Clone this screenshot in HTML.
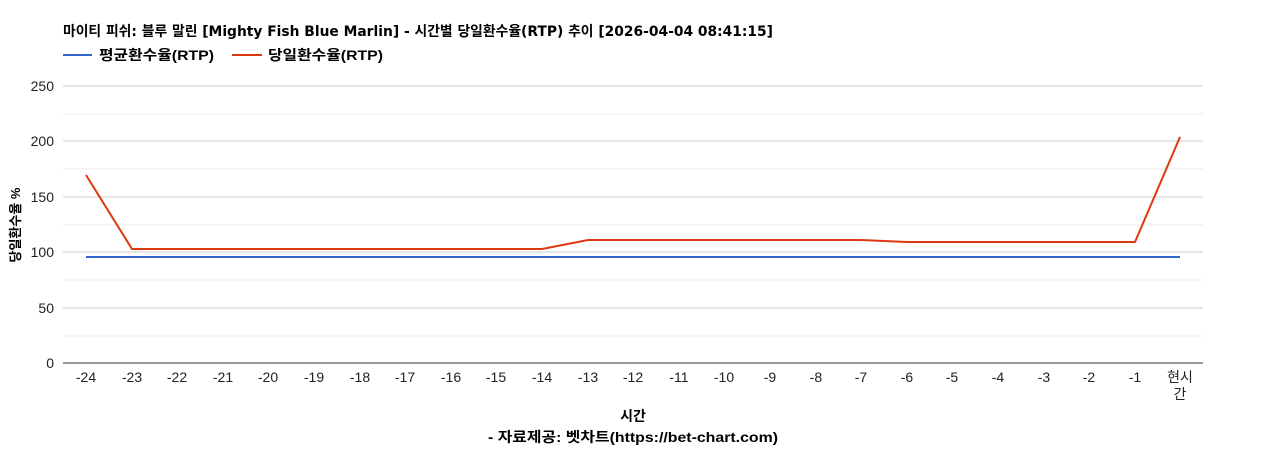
<!DOCTYPE html>
<html><head><meta charset="utf-8"><style>
body{margin:0;background:#fff;width:1268px;height:450px;overflow:hidden}
text{font-family:"Liberation Sans","Noto Sans CJK KR",sans-serif}
</style></head><body>
<svg width="1268" height="450" xmlns="http://www.w3.org/2000/svg">
<text x="63" y="36" font-size="14" font-weight="bold" textLength="710" lengthAdjust="spacingAndGlyphs" style="font-family:'DejaVu Sans','Noto Sans CJK KR',sans-serif">마이티 피쉬: 블루 말린 [Mighty Fish Blue Marlin] - 시간별 당일환수율(RTP) 추이 [2026-04-04 08:41:15]</text>
<line x1="63" y1="55" x2="92" y2="55" stroke="#3366cc" stroke-width="2"/>
<text x="99" y="60" font-size="14" font-weight="bold" textLength="115" lengthAdjust="spacingAndGlyphs">평균환수율(RTP)</text>
<line x1="232" y1="55" x2="262" y2="55" stroke="#dc3912" stroke-width="2"/>
<text x="268" y="60" font-size="14" font-weight="bold" textLength="115" lengthAdjust="spacingAndGlyphs">당일환수율(RTP)</text>
<g stroke="#ebebeb"><line x1="63" x2="1203" y1="114" y2="114"/><line x1="63" x2="1203" y1="169" y2="169"/><line x1="63" x2="1203" y1="225" y2="225"/><line x1="63" x2="1203" y1="280" y2="280"/><line x1="63" x2="1203" y1="336" y2="336"/></g>
<g stroke="#cccccc"><line x1="63" x2="1203" y1="86" y2="86"/><line x1="63" x2="1203" y1="141" y2="141"/><line x1="63" x2="1203" y1="197" y2="197"/><line x1="63" x2="1203" y1="252" y2="252"/><line x1="63" x2="1203" y1="308" y2="308"/></g>
<line x1="63" x2="1203" y1="363" y2="363" stroke="#333"/>
<g font-size="14" text-anchor="end" fill="#222"><text x="54" y="91">250</text><text x="54" y="146">200</text><text x="54" y="202">150</text><text x="54" y="257">100</text><text x="54" y="313">50</text><text x="54" y="368">0</text></g>
<text transform="translate(20,225) rotate(-90)" font-size="13" font-weight="bold" text-anchor="middle">당일환수율 %</text>
<g font-size="14" text-anchor="middle" fill="#222">
<text x="86" y="382">-24</text><text x="132" y="382">-23</text><text x="177" y="382">-22</text><text x="223" y="382">-21</text><text x="268" y="382">-20</text><text x="314" y="382">-19</text><text x="360" y="382">-18</text><text x="405" y="382">-17</text><text x="451" y="382">-16</text><text x="496" y="382">-15</text><text x="542" y="382">-14</text><text x="588" y="382">-13</text><text x="633" y="382">-12</text><text x="679" y="382">-11</text><text x="724" y="382">-10</text><text x="770" y="382">-9</text><text x="816" y="382">-8</text><text x="861" y="382">-7</text><text x="907" y="382">-6</text><text x="952" y="382">-5</text><text x="998" y="382">-4</text><text x="1044" y="382">-3</text><text x="1089" y="382">-2</text><text x="1135" y="382">-1</text><text x="1180" y="382">현시</text><text x="1180" y="399">간</text>
</g>
<text x="633" y="421" font-size="14" font-weight="bold" text-anchor="middle">시간</text>
<text x="633" y="442" font-size="14" font-weight="bold" text-anchor="middle" textLength="290" lengthAdjust="spacingAndGlyphs">- 자료제공: 벳차트(https://bet-chart.com)</text>
<polyline fill="none" stroke="#3366cc" stroke-width="2" points="86,257 1180,257"/>
<polyline fill="none" stroke="#dc3912" stroke-width="2" points="86,175 132,249 542,249 588,240 861,240 907,242 1135,242 1180,137"/>
</svg>
</body></html>
